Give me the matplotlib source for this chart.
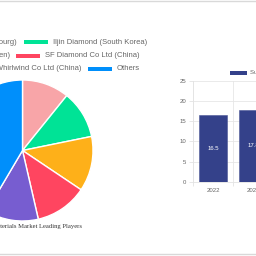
import matplotlib
matplotlib.use("Agg")
import matplotlib.pyplot as plt
from matplotlib.patches import Rectangle
from matplotlib.lines import Line2D
import numpy as np

# ---- data ----
players = ["Element Six (Luxembourg)", "Iljin Diamond (South Korea)",
           "Sandvik Hyperion (Sweden)", "SF Diamond Co Ltd (China)",
           "Henan Huanghe Whirlwind Co Ltd (China)", "Others"]
shares = [10.8, 11.0, 12.6, 12.0, 12.1, 41.5]
pie_colors = ["#F8A5A8", "#00E396", "#FEB019", "#FF4560", "#775DD0", "#008FFB"]

years = ["2022", "2023"]
market_size = [16.5, 17.8]
bar_color = "#34418A"
bar_series = "Superhard Materials Market Size"
title = "Superhard Materials Market Leading Players"

W = H = 256.0
def fx(x): return x / W
def fy(y): return 1 - y / H

fig = plt.figure(figsize=(2.56, 2.56), dpi=100)
fig.patch.set_facecolor("white")

# ---- pie ----
cx, cy, r = 22.5, 150.5, 70.5
pax = fig.add_axes([fx(cx - r), fy(cy + r), 2 * r / W, 2 * r / H])
pax.pie(shares, colors=pie_colors, startangle=90, counterclock=False,
        wedgeprops=dict(edgecolor="white", linewidth=1.0))
pax.set_xlim(-1, 1); pax.set_ylim(-1, 1)
pax.set_aspect("equal")
pax.axis("off")

# pie legend (rows of two items, manually positioned)
leg_font = dict(fontsize=5.5, color="#666666", family="Liberation Sans", va="center")
rows = [(42, 17, 24), (55.5, 10, 16), (69, 81, 88)]  # y, end of left text, start of right swatch
for i, (y, left_end, sw) in enumerate(rows):
    li, ri = 2 * i, 2 * i + 1
    fig.text(fx(left_end), fy(y), players[li], ha="right", **leg_font)
    fig.add_artist(Rectangle((fx(sw), fy(y + 2)), 24 / W, 4 / H,
                             transform=fig.transFigure, facecolor=pie_colors[ri],
                             edgecolor="none"))
    fig.text(fx(sw + 29), fy(y), players[ri], ha="left", **leg_font)

fig.text(fx(cx), fy(226.5), title, ha="center", va="center", fontsize=4.8,
         color="#333333", family="Liberation Serif")

# ---- bar chart ----
x0, ybase, ytop, catw = 193, 182, 80.7, 40.3
bax = fig.add_axes([fx(x0), fy(ybase), 2 * catw / W, (ybase - ytop) / H])
pos = np.arange(len(years))
bars = bax.bar(pos, market_size, width=0.7, color=bar_color, edgecolor="#4a5796",
               linewidth=0.4, zorder=3)
bax.bar_label(bars, labels=[f"{v}" for v in market_size], label_type="center",
              color="white", fontsize=4.3, family="Liberation Sans")
bax.set_xlim(-0.5, 1.5)
bax.set_ylim(0, 25)
bax.set_yticks(np.arange(0, 26, 5))
bax.set_xticks(pos)
bax.set_xticklabels(years)
bax.set_xticks(np.arange(len(years) + 1) - 0.5, minor=True)
bax.tick_params(axis="y", labelsize=4.3, labelcolor="#666666", length=3,
                color="#e3e3e3", pad=2, width=0.6)
bax.tick_params(axis="x", which="major", labelsize=4.3, labelcolor="#666666",
                length=0, pad=4)
bax.tick_params(axis="x", which="minor", length=3, color="#e3e3e3", width=0.6)
for lab in bax.get_yticklabels() + bax.get_xticklabels():
    lab.set_family("Liberation Sans")
bax.grid(axis="y", color="#e6e6e6", linewidth=0.6, zorder=0)
bax.grid(axis="x", which="minor", color="#e6e6e6", linewidth=0.6, zorder=0)
for s in ["top", "right"]:
    bax.spines[s].set_visible(False)
for s in ["left", "bottom"]:
    bax.spines[s].set_color("#e3e3e3")
    bax.spines[s].set_linewidth(0.6)

# bar legend
fig.add_artist(Rectangle((fx(230), fy(74.5)), 17 / W, 3.5 / H,
                         transform=fig.transFigure, facecolor=bar_color,
                         edgecolor="none"))
fig.text(fx(250), fy(72.8), bar_series, ha="left", va="center",
         fontsize=4.3, color="#666666", family="Liberation Sans")

# frame lines
fig.add_artist(Line2D([0, 1], [fy(0.6), fy(0.6)], transform=fig.transFigure,
                      color="#d9d9d9", linewidth=1.0))
fig.add_artist(Line2D([0, 1], [fy(254), fy(254)], transform=fig.transFigure,
                      color="#d9d9d9", linewidth=1.0))

fig.savefig("out.png", dpi=100, facecolor="white")
